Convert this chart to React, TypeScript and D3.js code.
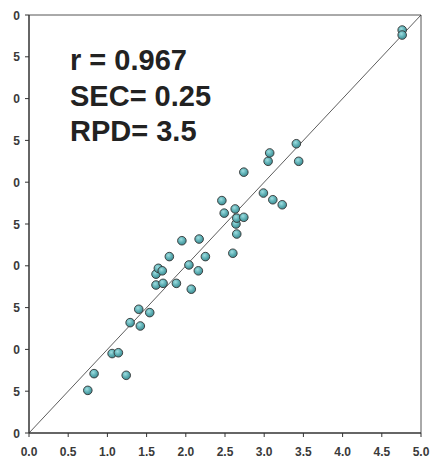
import { useEffect } from "react";
import * as d3 from "d3";

// measured vs predicted values
const measured = [
  0.75, 0.83, 1.24, 1.06, 1.14, 1.29, 1.42, 1.4, 1.54, 1.62,
  1.71, 1.88, 2.07, 1.62, 1.65, 1.7, 1.79, 1.95, 2.17, 2.04,
  2.16, 2.25, 2.6, 2.65, 2.64, 2.65, 2.74, 2.63, 2.49, 2.46,
  2.74, 2.99, 3.11, 3.23, 3.05, 3.07, 3.41, 3.44, 4.76, 4.76,
];
const predicted = [
  0.51, 0.71, 0.69, 0.95, 0.96, 1.32, 1.28, 1.48, 1.44, 1.77,
  1.79, 1.79, 1.72, 1.9, 1.97, 1.94, 2.11, 2.3, 2.32, 2.01,
  1.94, 2.11, 2.15, 2.38, 2.5, 2.57, 2.58, 2.68, 2.63, 2.78,
  3.12, 2.87, 2.79, 2.73, 3.25, 3.35, 3.46, 3.25, 4.82, 4.76,
];
const xTicks = [0, 0.5, 1, 1.5, 2, 2.5, 3, 3.5, 4, 4.5, 5];
const yTicks = [0, 0.5, 1, 1.5, 2, 2.5, 3, 3.5, 4, 4.5, 5];
const statLines = ["r = 0.967", "SEC= 0.25", "RPD= 3.5"];

const W = 430;
const H = 461;
const left = 29, right = 421, top = 15, bottom = 433;

export default function App() {
  useEffect(() => {
    document.body.style.margin = "0";
  }, []);

  const x = d3.scaleLinear().domain([0, 5]).range([left, right]);
  const y = d3.scaleLinear().domain([0, 5]).range([bottom, top]);
  const fmt = d3.format(".1f");

  return (
    <svg width={W} height={H} style={{ display: "block", background: "#fff" }}
      fontFamily="'Liberation Sans', Arial, sans-serif">
      <defs>
        <radialGradient id="dot" cx="40%" cy="35%" r="65%">
          <stop offset="0%" stopColor="#9fdde0" />
          <stop offset="55%" stopColor="#5fb1b6" />
          <stop offset="100%" stopColor="#3f8c92" />
        </radialGradient>
        {/* the source picture is cropped: only the last digit of y labels shows */}
        <clipPath id="ylab">
          <rect x={13} y={0} width={20} height={H} />
        </clipPath>
      </defs>

      {/* frame */}
      <line x1={left} y1={top} x2={right} y2={top} stroke="#555" strokeWidth={1} />
      <line x1={right} y1={top} x2={right} y2={bottom} stroke="#555" strokeWidth={1} />
      <line x1={left} y1={top} x2={left} y2={bottom} stroke="#333" strokeWidth={1.5} />
      <line x1={left} y1={bottom} x2={right} y2={bottom} stroke="#333" strokeWidth={1.5} />

      {/* x ticks */}
      {xTicks.map((t) => (
        <g key={`x${t}`}>
          <line x1={x(t)} x2={x(t)} y1={bottom} y2={bottom + 4} stroke="#333" />
          <text x={x(t)} y={456} textAnchor="middle" fontSize={12} fontWeight="bold" fill="#3a3a3a">
            {fmt(t)}
          </text>
        </g>
      ))}

      {/* y ticks */}
      <g clipPath="url(#ylab)">
        {yTicks.map((t) => (
          <text key={`yl${t}`} x={20} y={y(t) + 4.5} textAnchor="end" fontSize={12} fontWeight="bold" fill="#3a3a3a">
            {fmt(t)}
          </text>
        ))}
      </g>
      {yTicks.map((t) => (
        <line key={`y${t}`} x1={left - 4} x2={left} y1={y(t)} y2={y(t)} stroke="#333" />
      ))}

      {/* 1:1 line */}
      <line x1={x(0)} y1={y(0)} x2={x(5)} y2={y(5)} stroke="#333" strokeWidth={0.8} />

      {/* points */}
      {measured.map((m, i) => (
        <circle key={i} cx={x(m)} cy={y(predicted[i])} r={4.3}
          fill="url(#dot)" stroke="#333" strokeWidth={0.9} />
      ))}

      {/* statistics */}
      {statLines.map((s, i) => (
        <text key={s} x={70} y={70 + i * 35.5} fontSize={29} fontWeight="bold" fill="#222">
          {s}
        </text>
      ))}
    </svg>
  );
}
